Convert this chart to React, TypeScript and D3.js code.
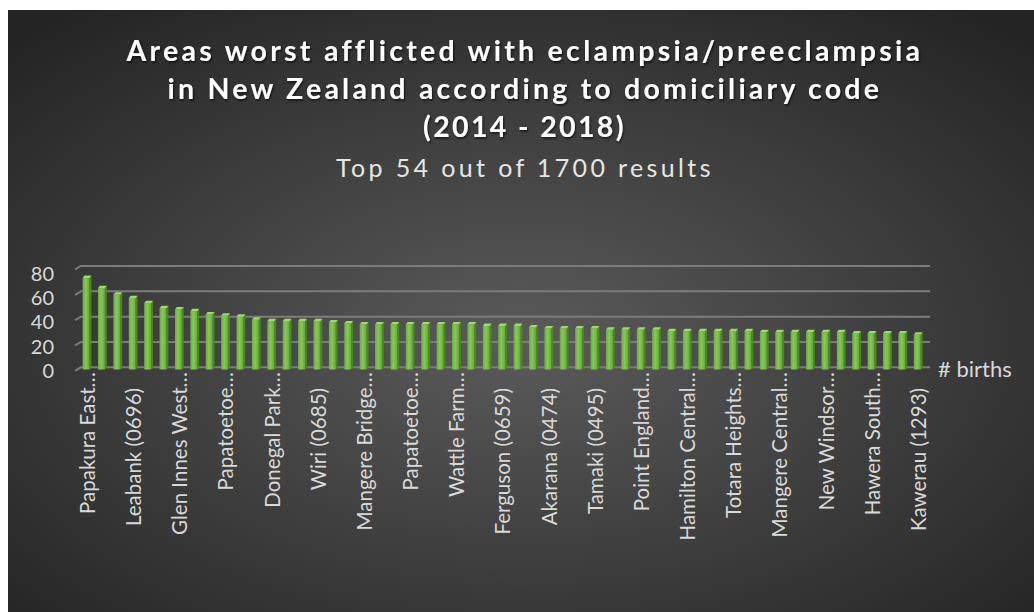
import React from "react";
import * as d3 from "d3";

const titleLines = [
  "Areas worst afflicted with eclampsia/preeclampsia",
  "in New Zealand according to domiciliary code",
  "(2014 - 2018)",
];
const subtitle = "Top 54 out of 1700 results";
const axisTitle = "# births";

// one value per bar (55 bars)
const births = [
  72.4, 64.5, 59.2, 56.6, 52.6, 48.7, 47.6, 46.3, 43.7, 42.6,
  41.8, 39.5, 38.4, 38.4, 38.4, 38.4, 37.4, 36.6, 35.8, 35.8,
  35.8, 35.8, 35.8, 35.8, 35.8, 35.8, 34.5, 34.5, 34.5, 33.4,
  32.6, 32.6, 32.6, 32.6, 31.6, 31.6, 31.6, 31.6, 30.5, 30.5,
  30.5, 30.5, 30.5, 30.5, 29.7, 29.7, 29.7, 29.7, 29.7, 29.7,
  28.7, 28.7, 28.7, 28.7, 27.6,
];

// labels shown on every third bar
const shownLabels = [
  "Papakura East…", "Leabank (0696)", "Glen Innes West…", "Papatoetoe…",
  "Donegal Park…", "Wiri (0685)", "Mangere Bridge…", "Papatoetoe…",
  "Wattle Farm…", "Ferguson (0659)", "Akarana (0474)", "Tamaki (0495)",
  "Point England…", "Hamilton Central…", "Totara Heights…", "Mangere Central…",
  "New Windsor…", "Hawera South…", "Kawerau (1293)",
];

const yTicks = [0, 20, 40, 60, 80];

export default function App() {
  const W = 1034;
  const H = 612;
  const idx = births.map((_, i) => i);
  const x = d3.scaleBand<number>().domain(idx).range([79.1, 925.7]).padding(0);
  const yBack = d3.scaleLinear().domain([0, 80]).range([367.3, 266]);
  const yFront = d3.scaleLinear().domain([0, 80]).range([370, 272.7]);
  const step = x.step();
  const bottom = 369.5;
  const font = "Lato, 'Open Sans', sans-serif";

  return (
    <div style={{ position: "absolute", left: 0, top: 0 }}>
      <svg width={W} height={H} style={{ display: "block" }}>
        <defs>
          <radialGradient id="bg" cx="0.5" cy="0.55" r="0.7">
            <stop offset="0" stopColor="#5b5b5b" />
            <stop offset="1" stopColor="#242424" />
          </radialGradient>
          <linearGradient id="front" x1="0" x2="1" y1="0" y2="0">
            <stop offset="0" stopColor="#68ae38" />
            <stop offset="0.45" stopColor="#86ca55" />
            <stop offset="1" stopColor="#66a838" />
          </linearGradient>
          <filter id="shadow" x="-5%" y="-20%" width="110%" height="150%">
            <feDropShadow dx="1" dy="1.5" stdDeviation="1.2" floodColor="#000" floodOpacity="0.7" />
          </filter>
        </defs>
        <rect x={8} y={10} width={W - 8} height={H - 10} fill="url(#bg)" />

        {/* title */}
        <g filter="url(#shadow)" fontFamily={font} fill="#ffffff" textAnchor="middle">
          {titleLines.map((t, i) => (
            <text
              key={i}
              x={524}
              y={61 + i * 38}
              fontSize={28.5}
              fontWeight="bold"
              letterSpacing={1.5}
              textLength={[795, 713, 202][i]}
              lengthAdjust="spacing"
            >
              {t}
            </text>
          ))}
        </g>
        <text
          x={524}
          y={177}
          fontFamily={font}
          fontSize={25}
          fill="#e6e6e6"
          textAnchor="middle"
          letterSpacing={1.5}
          textLength={376}
          lengthAdjust="spacing"
        >
          {subtitle}
        </text>

        {/* gridlines */}
        <g stroke="#7c7c7c" strokeWidth={2} fill="none">
          {yTicks.map((t) => (
            <path
              key={t}
              d={`M75,${yBack(t) + 3.5}L81,${yBack(t)}L930,${yBack(t)}`}
            />
          ))}
        </g>

        {/* y tick labels */}
        <g fontFamily={font} fontSize={20} fill="#d9d9d9" textAnchor="end">
          {yTicks.map((t) => (
            <text key={t} x={54} y={yFront(t)} dominantBaseline="central">
              {t}
            </text>
          ))}
        </g>

        {/* bars */}
        <g>
          {births.map((v, i) => {
            const c = (x(i) as number) + step / 2;
            const top = yBack(v);
            const fl = c - 4.2;
            const fr = c + 2.7;
            const sr = c + 4.6;
            const d = 2.5;
            return (
              <g key={i}>
                <path
                  d={`M${fr},${top + d}L${sr},${top}L${sr},${bottom - 1.5}L${fr},${bottom}Z`}
                  fill="#4a8727"
                />
                <rect x={fl} y={top + d} width={fr - fl} height={bottom - top - d} fill="url(#front)" />
                <path
                  d={`M${fl},${top + d}L${fr},${top + d}L${sr},${top}L${fl + 1.9},${top}Z`}
                  fill="#9fd970"
                />
              </g>
            );
          })}
        </g>

        {/* x labels */}
        <g fontFamily={font} fontSize={20.5} fill="#d9d9d9" textAnchor="end">
          {shownLabels.map((lab, k) => {
            const i = k * 3;
            const c = (x(i) as number) + step / 2;
            const yy = lab.endsWith("…") ? 372 : 388;
            return (
              <text
                key={k}
                transform={`translate(${c},${yy}) rotate(-90)`}
                dominantBaseline="central"
              >
                {lab}
              </text>
            );
          })}
        </g>

        <text x={938} y={377} fontFamily={font} fontSize={22} fill="#d9d9d9">
          {axisTitle}
        </text>
      </svg>
    </div>
  );
}
